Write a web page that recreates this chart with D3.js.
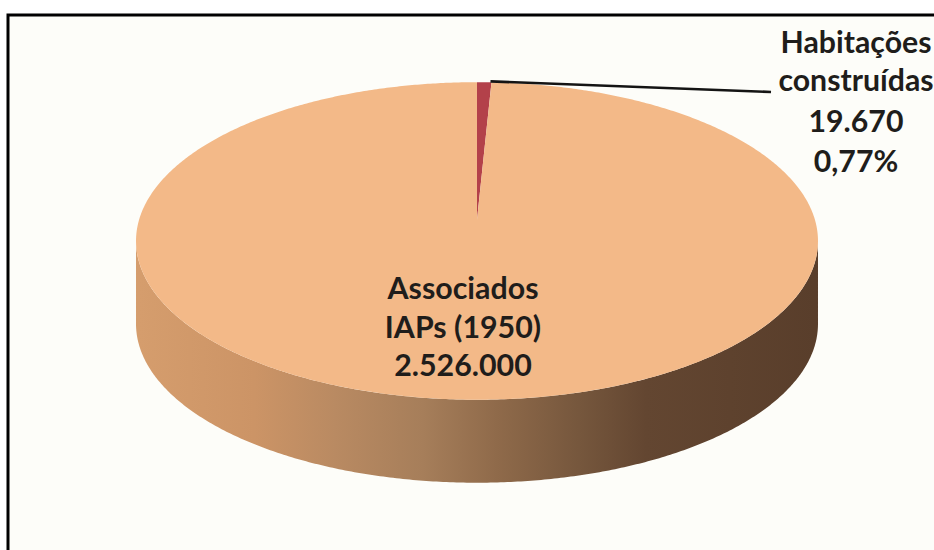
<!DOCTYPE html>
<html>
<head>
<meta charset="utf-8">
<script src="https://cdn.jsdelivr.net/npm/d3@7"></script>
<style>
  html, body { margin: 0; padding: 0; background: #ffffff; }
  svg { display: block; }
  text { font-family: Lato, "Open Sans", sans-serif; font-weight: 700; fill: #1f1d1b; }
</style>
</head>
<body>
<svg id="chart" width="934" height="550"></svg>
<script>
// Slices, in drawing order (clockwise from 12 o'clock)
const categories = ["Habitações construídas", "Associados IAPs (1950)"];
const values = [19670, 2526000];
const sliceColors = ["#b3414a", "#f3b988"];
// Label text lines (numbers are appended from the values)
const labelNames = [["Habitações", "construídas"], ["Associados", "IAPs (1950)"]];

const W = 934, H = 550;
const svg = d3.select("#chart");

// Portuguese number formatting: 2.526.000 / 0,77%
const ptBR = d3.formatLocale({ decimal: ",", thousands: ".", grouping: [3], currency: ["R$", ""] });
const fmtInt = ptBR.format(",d");
const fmtPct = ptBR.format(".2%");

// Background panel and frame
svg.append("rect").attr("x", 0).attr("y", 0).attr("width", W).attr("height", H).attr("fill", "#ffffff");
svg.append("rect").attr("x", 8).attr("y", 15).attr("width", W + 20).attr("height", H + 20)
  .attr("fill", "#fdfdf9").attr("stroke", "#000").attr("stroke-width", 3);

// Perspective projection of the pie's unit disc
const cx = 477, cy = 220;      // projected disc centre
const R = 338, S = 156;        // horizontal / depth radii
const k = 0.132;               // perspective foreshortening
const depth = 83;              // thickness of the pie
function project(theta, dy) {
  const u = Math.sin(theta), v = Math.cos(theta);
  const w = 1 + k * v;
  return [cx + R * u / w, cy - S * v / w + (dy || 0)];
}
function arcPoints(a0, a1, dy, n) {
  const steps = n || Math.max(4, Math.ceil(Math.abs(a1 - a0) / (Math.PI / 360)));
  return d3.range(steps + 1).map(i => project(a0 + (a1 - a0) * i / steps, dy));
}
const line = d3.line();

const pie = d3.pie().sort(null).value(d => d);
const arcs = pie(values);
const total = d3.sum(values);

// Side gradient, light on the left to dark brown on the right
const defs = svg.append("defs");
const grad = defs.append("linearGradient").attr("id", "sideGrad")
  .attr("gradientUnits", "userSpaceOnUse")
  .attr("x1", cx - R).attr("x2", cx + R).attr("y1", 0).attr("y2", 0);
[[0, "#d59d6d"], [0.17, "#cc9466"], [0.29, "#b98a62"], [0.42, "#a67e5a"],
 [0.53, "#8f6a4a"], [0.65, "#76573d"], [0.75, "#634631"], [1, "#593e2b"]]
  .forEach(([o, c]) => grad.append("stop").attr("offset", o).attr("stop-color", c));

// Visible front wall: between the silhouette tangent points
const tR = Math.acos(-k), tL = 2 * Math.PI - Math.acos(-k);
const sidePts = arcPoints(tR, tL, 0).concat(arcPoints(tL, tR, depth));
svg.append("path").attr("d", line(sidePts) + "Z").attr("fill", "url(#sideGrad)");

// Top faces of the slices
arcs.forEach((a, i) => {
  const pts = [[cx, cy]].concat(arcPoints(a.startAngle, a.endAngle, 0));
  svg.append("path").attr("d", line(pts) + "Z").attr("fill", sliceColors[i]);
});

// Label block: fixed type size, condensed horizontally so the reference line fits a width
function labelBlock(lines, x, ys, fontSize, targetWidth, refLine) {
  const g = svg.append("g");
  const t = g.append("text").attr("text-anchor", "middle").attr("font-size", fontSize);
  ys.forEach((y, i) => t.append("tspan").attr("x", 0).attr("y", y).text(lines[i]));
  const probe = svg.append("text").attr("font-size", fontSize).text(lines[refLine]);
  const w = probe.node().getComputedTextLength();
  probe.remove();
  g.attr("transform", `translate(${x},0) scale(${targetWidth / w},1)`);
}

// Small slice: leader line and outside label
const small = arcs[0];
const tip = project(small.endAngle, 0);
svg.append("polyline")
  .attr("points", [[tip[0] - 1, tip[1] - 1], [771, 92]].map(p => p.join(",")).join(" "))
  .attr("fill", "none").attr("stroke", "#141414").attr("stroke-width", 2.6);

const smallLines = labelNames[0].concat([fmtInt(values[0]), fmtPct(values[0] / total)]);
labelBlock(smallLines, 856, [53, 91, 132, 172], 30, 151, 0);

// Large slice: label on the face
const bigLines = labelNames[1].concat([fmtInt(values[1])]);
labelBlock(bigLines, 463, [299, 338, 376], 30, 151, 0);
</script>
</body>
</html>
